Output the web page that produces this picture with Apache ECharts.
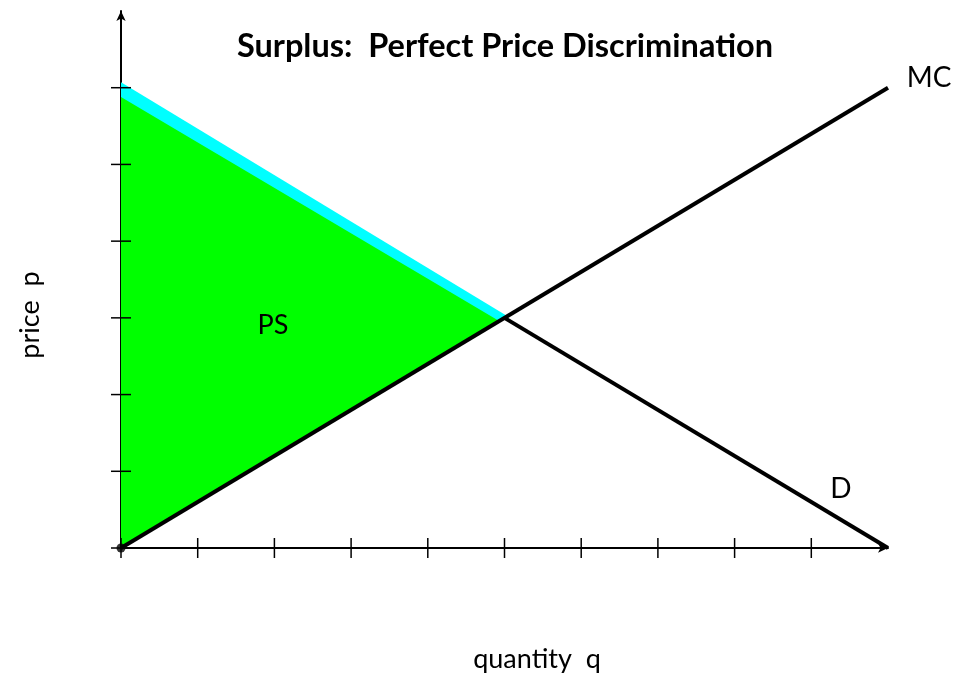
<!DOCTYPE html>
<html>
<head>
<meta charset="utf-8">
<script src="https://cdn.jsdelivr.net/npm/echarts@6/dist/echarts.min.js"></script>
<style>
  html, body { margin: 0; padding: 0; background: #fff; }
  #chart { width: 956px; height: 679px; }
</style>
</head>
<body>
<div id="chart"></div>
<script>
// Tick positions on each axis
const qTicks = [0, 1, 2, 3, 4, 5, 6, 7, 8, 9];
const pTicks = [0, 1, 2, 3, 4, 5, 6];

// Marginal cost and demand curves
const mcQ = [0, 10];
const mcP = [0, 6];
const dQ = [5, 10];
const dP = [3, 0];

// Total surplus region (cyan) and producer surplus region (green)
const tsQ = [0, 0, 5.04];
const tsP = [0, 6.07, 3.02];
const psQ = [0, 0, 4.93];
const psP = [0, 5.88, 2.96];

const FONT = 'Lato';

const chart = echarts.init(document.getElementById('chart'), null, { renderer: 'canvas' });

function polygonSeries(qs, ps, color, z) {
  return {
    type: 'custom',
    z: z,
    silent: true,
    data: [0],
    renderItem: function (params, api) {
      const pts = qs.map((q, i) => api.coord([q, ps[i]]));
      return { type: 'polygon', shape: { points: pts }, style: { fill: color, stroke: null } };
    }
  };
}

function tickSeries(values, horizontal) {
  return {
    type: 'custom',
    z: 5,
    silent: true,
    data: values,
    renderItem: function (params, api) {
      const v = api.value(0);
      const c = horizontal ? api.coord([v, 0]) : api.coord([0, v]);
      const shape = horizontal
        ? { x1: c[0], y1: c[1] - 10, x2: c[0], y2: c[1] + 10 }
        : { x1: c[0] - 10, y1: c[1], x2: c[0] + 10, y2: c[1] };
      return { type: 'line', shape: shape, style: { stroke: '#000', lineWidth: 1.5 } };
    }
  };
}

function label(text, x, y, size, extra) {
  return Object.assign({
    type: 'text', x: x, y: y, z: 100,
    style: { text: text, font: size + 'px ' + FONT, fill: '#000', textAlign: 'center', textVerticalAlign: 'middle' }
  }, extra || {});
}

chart.setOption({
  animation: false,
  backgroundColor: '#fff',
  grid: { left: 121, right: 68, top: 11, bottom: 131 },
  xAxis: {
    type: 'value', min: 0, max: 10,
    axisLine: { show: true, onZero: false, symbol: ['none', 'arrow'], symbolSize: [7, 10],
                lineStyle: { color: '#000', width: 2 } },
    axisTick: { show: false }, axisLabel: { show: false }, splitLine: { show: false }
  },
  yAxis: {
    type: 'value', min: 0, max: 7,
    axisLine: { show: true, onZero: false, symbol: ['none', 'arrow'], symbolSize: [7, 10],
                lineStyle: { color: '#000', width: 2 } },
    axisTick: { show: false }, axisLabel: { show: false }, splitLine: { show: false }
  },
  series: [
    polygonSeries(tsQ, tsP, '#00ffff', 1),
    polygonSeries(psQ, psP, '#00ff00', 2),
    tickSeries(qTicks, true),
    tickSeries(pTicks, false),
    {
      type: 'line', z: 6, silent: true, symbol: 'none',
      data: mcQ.map((q, i) => [q, mcP[i]]),
      lineStyle: { color: '#000', width: 4 }
    },
    {
      type: 'line', z: 6, silent: true, symbol: 'none',
      data: dQ.map((q, i) => [q, dP[i]]),
      lineStyle: { color: '#000', width: 4 }
    },
    {
      type: 'scatter', z: 7, silent: true, symbolSize: 9,
      itemStyle: { color: '#000' },
      data: [[0, 0]]
    }
  ],
  graphic: [
    { type: 'text', x: 505, y: 47, z: 100,
      style: { text: 'Surplus:  Perfect Price Discrimination', font: 'bold 32.5px ' + FONT, fill: '#000',
               textAlign: 'center', textVerticalAlign: 'middle' } },
    label('MC', 929, 78, 28),
    label('PS', 273, 325, 27),
    label('D', 841, 489, 28),
    label('quantity  q', 537, 659, 27),
    label('price  p', 30, 315, 27, { rotation: Math.PI / 2 })
  ]
});
</script>
</body>
</html>
